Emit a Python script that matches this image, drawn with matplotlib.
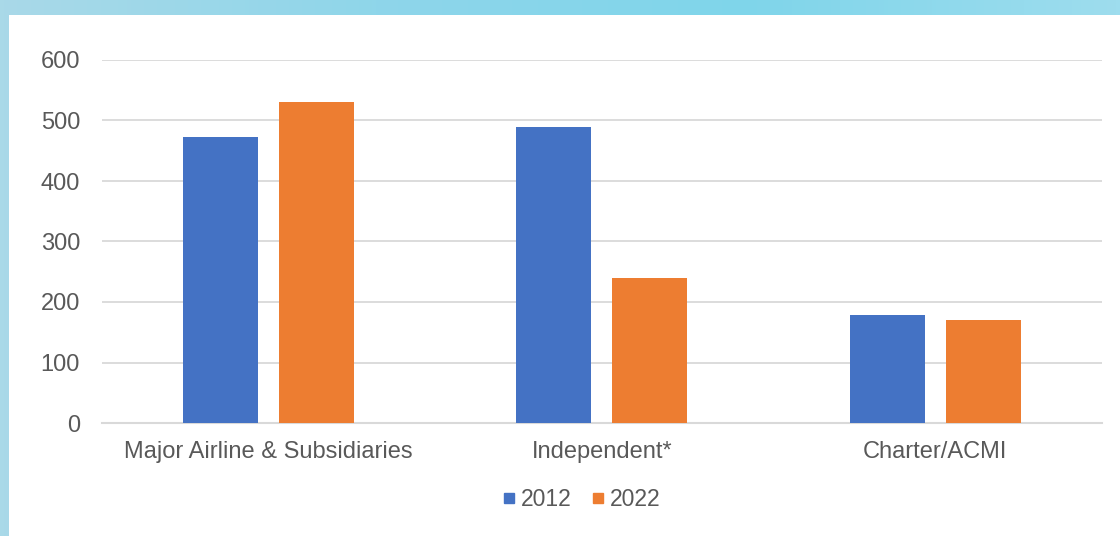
import matplotlib
matplotlib.use("Agg")
import matplotlib.pyplot as plt
import numpy as np
from matplotlib.patches import Rectangle
from matplotlib.lines import Line2D
from matplotlib.colors import LinearSegmentedColormap

categories = ["Major Airline & Subsidiaries", "Independent*", "Charter/ACMI"]
series_names = ["2012", "2022"]
values_2012 = [473, 490, 179]
values_2022 = [530, 240, 170]
yticks = [0, 100, 200, 300, 400, 500, 600]

blue = "#4472C4"
orange = "#ED7D31"
text_col = "#595959"
grid_col = "#D9D9D9"

plt.rcParams["font.family"] = ["Liberation Sans", "DejaVu Sans"]

fig = plt.figure(figsize=(11.2, 5.36), dpi=100)

# background gradient (slide frame)
bg = fig.add_axes([0, 0, 1, 1], zorder=-10)
cmap = LinearSegmentedColormap.from_list("bg", ["#A9D9E8", "#8FD6EA", "#7FD5EA", "#9EDDEE"])
grad = np.linspace(0, 1, 256).reshape(1, -1)
bg.imshow(grad, aspect="auto", cmap=cmap, extent=[0, 1, 0, 1])
bg.add_patch(Rectangle((9 / 1120, 0), 1, 1 - 15 / 536, facecolor="white", edgecolor="none"))
bg.set_xlim(0, 1)
bg.set_ylim(0, 1)
bg.axis("off")

ax = fig.add_axes([102 / 1120, (536 - 423) / 536, 1000 / 1120, (423 - 60) / 536])
ax.set_facecolor("none")
x = np.arange(len(categories))
w = 0.225
off = 0.144
ax.bar(x - off, values_2012, w, color=blue, zorder=3, label=series_names[0])
ax.bar(x + off, values_2022, w, color=orange, zorder=3, label=series_names[1])

ax.set_xlim(-0.5, len(categories) - 0.5)
ax.set_ylim(0, 600)
ax.set_yticks(yticks)
ax.set_yticklabels([str(t) for t in yticks])
ax.set_xticks(x)
ax.set_xticklabels(categories)
ax.tick_params(axis="both", length=0, labelsize=17, colors=text_col)
ax.tick_params(axis="y", pad=15.8)
ax.tick_params(axis="x", pad=13)
ax.grid(axis="y", color=grid_col, linewidth=1.3, zorder=0)
ax.set_axisbelow(True)
for s in ["top", "right", "left"]:
    ax.spines[s].set_visible(False)
ax.spines["bottom"].set_color(grid_col)
ax.spines["bottom"].set_linewidth(1.5)

handles = [Line2D([], [], marker="s", linestyle="none", color=blue, markersize=7.5),
           Line2D([], [], marker="s", linestyle="none", color=orange, markersize=7.5)]
leg = fig.legend(handles, series_names, loc="center", bbox_to_anchor=(582 / 1120, 1 - 500 / 536),
                 ncol=2, frameon=False, fontsize=16.5, handlelength=0.45, handletextpad=0.3,
                 columnspacing=0.9)
for t in leg.get_texts():
    t.set_color(text_col)

fig.savefig("out.png", dpi=100)
